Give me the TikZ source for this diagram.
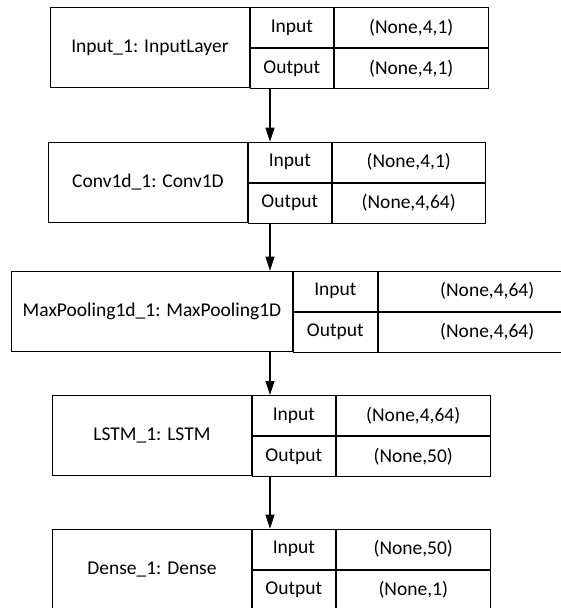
\documentclass[tikz,border=0pt]{standalone}
\usepackage{fontspec}
\setmainfont{Carlito}
\usepackage{tikz}
\usetikzlibrary{arrows.meta, positioning, calc}

\tikzset{
  cell/.style={draw=black, line width=0.9pt, inner sep=0pt, minimum height=80pt, anchor=north west},
  halfcell/.style={draw=black, line width=0.9pt, inner sep=0pt, minimum height=40pt, anchor=north west},
  flow/.style={line width=1.2pt, -{Triangle[length=14pt, width=9pt]}}
}

\begin{document}
\begin{tikzpicture}[x=1pt, y=-1pt, font=\fontsize{19.5}{23}\selectfont]
  \useasboundingbox (0,0) rectangle (561,608);
  \coordinate (spine) at (270,0);

  % input layer
  \node[cell, minimum width=199pt] (inp) at (50,7.3) {Input\_1: InputLayer};
  \node[halfcell, minimum width=83pt] (inpI) at (inp.north east) {Input};
  \node[halfcell, minimum width=83pt] (inpO) at (inpI.south west) {Output};
  \node[halfcell, minimum width=154pt] (inpIv) at (inpI.north east) {(None,4,1)};
  \node[halfcell, minimum width=154pt] (inpOv) at (inpO.north east) {(None,4,1)};

  % conv1d
  \node[cell, minimum width=199pt] (conv) at (48,141.7) {Conv1d\_1: Conv1D};
  \node[halfcell, minimum width=83pt] (convI) at (conv.north east) {Input};
  \node[halfcell, minimum width=83pt] (convO) at (convI.south west) {Output};
  \node[halfcell, minimum width=153pt] (convIv) at (convI.north east) {(None,4,1)};
  \node[halfcell, minimum width=153pt] (convOv) at (convO.north east) {(None,4,64)};

  % max pooling
  \node[cell, minimum width=281pt] (pool) at (11,270.7) {MaxPooling1d\_1: MaxPooling1D};
  \node[halfcell, minimum width=84pt] (poolI) at (pool.north east) {Input};
  \node[halfcell, minimum width=84pt] (poolO) at (poolI.south west) {Output};
  \node[halfcell, minimum width=218pt] (poolIv) at (poolI.north east) {(None,4,64)};
  \node[halfcell, minimum width=218pt] (poolOv) at (poolO.north east) {(None,4,64)};

  % lstm
  \node[cell, minimum width=199pt] (lstm) at (52,395) {LSTM\_1: LSTM};
  \node[halfcell, minimum width=83pt] (lstmI) at (lstm.north east) {Input};
  \node[halfcell, minimum width=83pt] (lstmO) at (lstmI.south west) {Output};
  \node[halfcell, minimum width=154pt] (lstmIv) at (lstmI.north east) {(None,4,64)};
  \node[halfcell, minimum width=154pt] (lstmOv) at (lstmO.north east) {(None,50)};

  % dense
  \node[cell, minimum width=199pt] (dense) at (52,528.7) {Dense\_1: Dense};
  \node[halfcell, minimum width=83pt] (denseI) at (dense.north east) {Input};
  \node[halfcell, minimum width=83pt] (denseO) at (denseI.south west) {Output};
  \node[halfcell, minimum width=154pt] (denseIv) at (denseI.north east) {(None,50)};
  \node[halfcell, minimum width=154pt] (denseOv) at (denseO.north east) {(None,1)};

  \draw[flow] (inp.south -| spine) -- (conv.north -| spine);
  \draw[flow] (conv.south -| spine) -- (pool.north -| spine);
  \draw[flow] (pool.south -| spine) -- (lstm.north -| spine);
  \draw[flow] (lstm.south -| spine) -- (dense.north -| spine);
\end{tikzpicture}
\end{document}
